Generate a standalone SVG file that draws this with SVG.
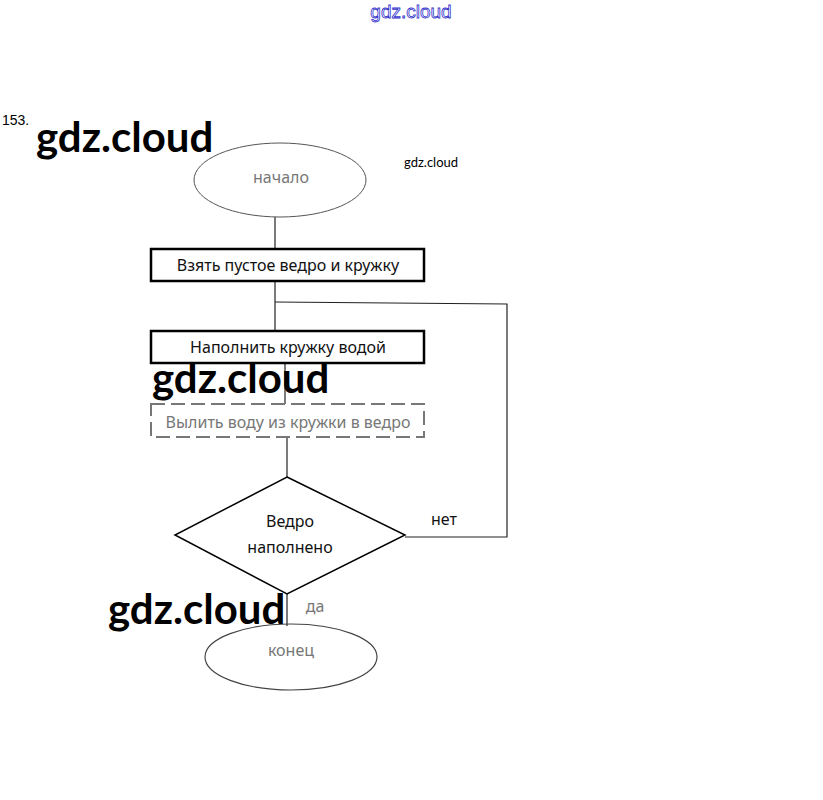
<svg xmlns="http://www.w3.org/2000/svg" width="823" height="800" viewBox="0 0 823 800">
<style>
.t{font-family:"Noto Sans","DejaVu Sans",sans-serif;font-size:16px;fill:#111;text-anchor:middle}
.g{fill:#777}
.wm{font-family:Lato,"Liberation Sans",sans-serif;font-weight:bold;font-size:42px;fill:#000}
.box{fill:none;stroke:#000;stroke-width:2.5}
.ln{fill:none;stroke:#222;stroke-width:1.2}
</style>
<rect width="823" height="800" fill="#fff"/>
<text x="411" y="18" font-family="Liberation Sans,sans-serif" font-size="19" fill="#fff" stroke="#3333cc" stroke-width="0.8" text-anchor="middle">gdz.cloud</text>
<text x="2" y="125" font-family="Liberation Sans,sans-serif" font-size="14" fill="#000">153.</text>
<g id="connectors">
<line class="ln" x1="275" y1="217" x2="275" y2="249"/>
<line class="ln" x1="275" y1="281" x2="275" y2="331"/>
<polyline class="ln" points="275,302 507,304 507,537 405,537"/>
<line class="ln" x1="285" y1="363" x2="285" y2="404" stroke="#666"/>
<line class="ln" x1="287" y1="437" x2="287" y2="477" stroke="#aaa"/>
<line class="ln" x1="287" y1="594" x2="287" y2="626"/>
<text class="t" x="444" y="525" font-size="15">нет</text>
<text class="t g" x="315" y="612" font-size="12" fill="#999">да</text>
</g>
<g id="start">
<ellipse cx="280" cy="180" rx="86" ry="37" fill="none" stroke="#555" stroke-width="1"/>
<text class="t g" x="281" y="183" font-size="14">начало</text>
</g>
<g id="step1">
<rect class="box" x="151" y="249" width="273" height="32"/>
<text class="t" x="288" y="271">Взять пустое ведро и кружку</text>
</g>
<g id="step2">
<rect class="box" x="151" y="331" width="273" height="32"/>
<text class="t" x="288" y="353">Наполнить кружку водой</text>
</g>
<g id="step3">
<rect x="151" y="404" width="273" height="33" fill="none" stroke="#777" stroke-width="2" stroke-dasharray="14,6"/>
<text class="t g" x="288" y="428">Вылить воду из кружки в ведро</text>
</g>
<g id="decision">
<polygon points="287,477 405,535 287,594 175,535" fill="none" stroke="#000" stroke-width="1.5"/>
<text class="t" x="290" y="527" font-size="15">Ведро</text>
<text class="t" x="290" y="553" font-size="15">наполнено</text>
</g>
<g id="end">
<ellipse cx="291" cy="657" rx="86" ry="33" fill="none" stroke="#444" stroke-width="1.2"/>
<text class="t g" x="291" y="656" font-size="14">конец</text>
</g>
<text class="wm" x="36" y="152">gdz.cloud</text>
<text class="wm" x="152" y="393">gdz.cloud</text>
<text class="wm" x="108" y="624">gdz.cloud</text>
<text x="404" y="167" font-family="Lato,'Liberation Sans',sans-serif" font-size="13" fill="#000">gdz.cloud</text>
</svg>
